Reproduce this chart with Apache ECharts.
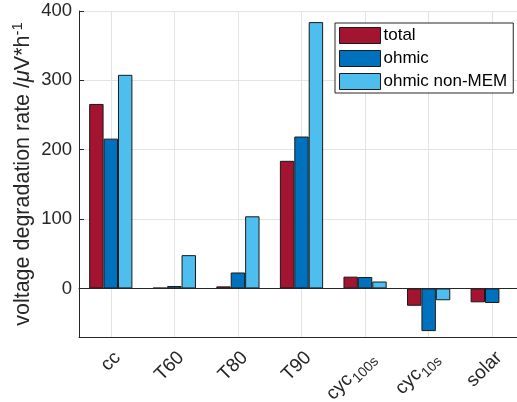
<!DOCTYPE html>
<html>
<head>
<meta charset="utf-8">
<script src="https://cdn.jsdelivr.net/npm/echarts@6/dist/echarts.min.js"></script>
<style>html,body{margin:0;padding:0;background:#fff;}#c{width:517px;height:402px;}</style>
</head>
<body>
<div id="c"></div>
<script>
const categories = ['cc', 'T60', 'T80', 'T90', 'cyc_100s', 'cyc_10s', 'solar'];
const seriesNames = ['total', 'ohmic', 'ohmic non-MEM'];
const totalValues = [266, 1, 3, 184, 17, -25, -20];
const ohmicValues = [216, 3.5, 23, 219, 16.5, -61.5, -21];
const nonMemValues = [308, 48, 104, 384, 10, -17, null];
const yTicks = [0, 100, 200, 300, 400];
const colors = ['#A2142F', '#0072BD', '#4DBEEE'];

const FONT = '"Liberation Sans", Arial, Helvetica, sans-serif';
const TXT = '#262626';

function catLabel(v) {
  const i = v.indexOf('_');
  if (i < 0) return '{b|' + v + '}';
  return '{b|' + v.slice(0, i) + '}{s|' + v.slice(i + 1) + '}';
}

const chart = echarts.init(document.getElementById('c'), null, {renderer: 'canvas'});
const values = [totalValues, ohmicValues, nonMemValues];

chart.setOption({
  animation: false,
  backgroundColor: '#fff',
  textStyle: {fontFamily: FONT, color: TXT},
  grid: {left: 79, top: 11, bottom: 65, right: -7, containLabel: false, outerBoundsMode: 'none'},
  legend: {
    orient: 'vertical', left: 335, top: 23, icon: 'rect',
    padding: [4, 6, 3, 4], itemGap: 6, itemWidth: 41, itemHeight: 16,
    borderColor: TXT, borderWidth: 1, backgroundColor: '#fff',
    textStyle: {fontFamily: FONT, fontSize: 17, color: '#000', padding: [0, 0, 0, -2]},
    itemStyle: {borderColor: '#1a1a1a', borderWidth: 1},
    data: seriesNames
  },
  xAxis: [{
    type: 'category', data: categories, position: 'bottom',
    axisLine: {onZero: false, lineStyle: {color: TXT, width: 1}},
    axisTick: {inside: true, alignWithLabel: true, length: 5, lineStyle: {color: TXT}},
    splitLine: {show: true, alignWithLabel: true, lineStyle: {color: '#e3e3e3', width: 1}},
    axisLabel: {
      rotate: 45, margin: 11, color: TXT, fontFamily: FONT,
      verticalAlign: 'top', hideOverlap: false, interval: 0,
      formatter: catLabel,
      rich: {
        b: {fontSize: 19, fontFamily: FONT, color: TXT, verticalAlign: 'top'},
        s: {fontSize: 14, fontFamily: FONT, color: TXT, verticalAlign: 'top', padding: [9, 0, 0, 1]}
      }
    }
  }, {
    type: 'category', data: categories, position: 'top',
    axisLine: {show: true, lineStyle: {color: TXT, width: 1}},
    axisTick: {inside: true, alignWithLabel: true, length: 5, lineStyle: {color: TXT}},
    axisLabel: {show: false},
    splitLine: {show: false}
  }],
  yAxis: {
    type: 'value', min: -70, max: 400,
    axisLine: {show: true, lineStyle: {color: TXT, width: 1}},
    axisTick: {show: true, inside: true, length: 5, lineStyle: {color: TXT}},
    splitLine: {show: true, lineStyle: {color: '#e3e3e3', width: 1}},
    axisLabel: {showMinLabel: false, fontSize: 18.5, color: TXT, fontFamily: FONT, margin: 7,
      formatter: function (v) { return yTicks.indexOf(v) >= 0 ? String(v) : ''; }},
    name: '{n|voltage degradation rate /}{m|μ}{n|V*h}{p|-1}',
    nameLocation: 'middle', nameGap: 43, nameRotate: 90, nameMoveOverlap: false,
    nameTextStyle: {
      rich: {
        n: {fontSize: 21.5, fontFamily: FONT, color: TXT},
        m: {fontSize: 21.5, fontFamily: FONT, color: TXT, fontStyle: 'italic'},
        p: {fontSize: 15, fontFamily: FONT, color: TXT, verticalAlign: 'top', padding: [0, 0, 11, 0]}
      }
    }
  },
  series: seriesNames.map(function (name, k) {
    const s = {
      name: name, type: 'bar', data: values[k],
      barGap: '0%', barCategoryGap: '32%',
      itemStyle: {color: colors[k], borderColor: '#1a1a1a', borderWidth: 1}
    };
    if (k === 0) {
      s.markLine = {
        silent: true, symbol: 'none', label: {show: false},
        lineStyle: {color: TXT, width: 1, type: 'solid'},
        data: [{yAxis: 0}]
      };
    }
    return s;
  })
});
</script>
</body>
</html>
